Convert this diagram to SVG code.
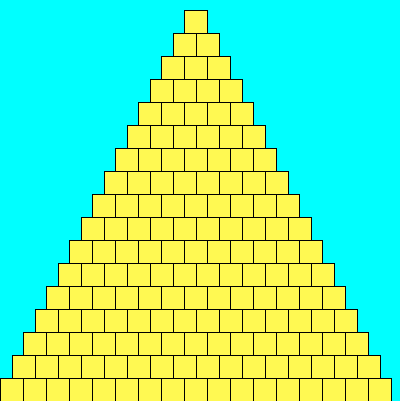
<svg xmlns="http://www.w3.org/2000/svg" xmlns:xlink="http://www.w3.org/1999/xlink" width="400" height="401" viewBox="0 0 400 401">
<style>.blk{fill:#fff952;stroke:#000;stroke-width:1}</style>
<defs><rect id="b" class="blk" width="23" height="23"/></defs>
<rect width="400" height="401" fill="#00ffff"/>
<g id="row1" transform="translate(184.5,10.5)"><use href="#b" x="0"/></g>
<g id="row2" transform="translate(173.5,33.5)"><use href="#b" x="0"/><use href="#b" x="23"/></g>
<g id="row3" transform="translate(161.5,56.5)"><use href="#b" x="0"/><use href="#b" x="23"/><use href="#b" x="46"/></g>
<g id="row4" transform="translate(150.5,79.5)"><use href="#b" x="0"/><use href="#b" x="23"/><use href="#b" x="46"/><use href="#b" x="69"/></g>
<g id="row5" transform="translate(138.5,102.5)"><use href="#b" x="0"/><use href="#b" x="23"/><use href="#b" x="46"/><use href="#b" x="69"/><use href="#b" x="92"/></g>
<g id="row6" transform="translate(127.5,125.5)"><use href="#b" x="0"/><use href="#b" x="23"/><use href="#b" x="46"/><use href="#b" x="69"/><use href="#b" x="92"/><use href="#b" x="115"/></g>
<g id="row7" transform="translate(115.5,148.5)"><use href="#b" x="0"/><use href="#b" x="23"/><use href="#b" x="46"/><use href="#b" x="69"/><use href="#b" x="92"/><use href="#b" x="115"/><use href="#b" x="138"/></g>
<g id="row8" transform="translate(104.5,171.5)"><use href="#b" x="0"/><use href="#b" x="23"/><use href="#b" x="46"/><use href="#b" x="69"/><use href="#b" x="92"/><use href="#b" x="115"/><use href="#b" x="138"/><use href="#b" x="161"/></g>
<g id="row9" transform="translate(92.5,194.5)"><use href="#b" x="0"/><use href="#b" x="23"/><use href="#b" x="46"/><use href="#b" x="69"/><use href="#b" x="92"/><use href="#b" x="115"/><use href="#b" x="138"/><use href="#b" x="161"/><use href="#b" x="184"/></g>
<g id="row10" transform="translate(81.5,217.5)"><use href="#b" x="0"/><use href="#b" x="23"/><use href="#b" x="46"/><use href="#b" x="69"/><use href="#b" x="92"/><use href="#b" x="115"/><use href="#b" x="138"/><use href="#b" x="161"/><use href="#b" x="184"/><use href="#b" x="207"/></g>
<g id="row11" transform="translate(69.5,240.5)"><use href="#b" x="0"/><use href="#b" x="23"/><use href="#b" x="46"/><use href="#b" x="69"/><use href="#b" x="92"/><use href="#b" x="115"/><use href="#b" x="138"/><use href="#b" x="161"/><use href="#b" x="184"/><use href="#b" x="207"/><use href="#b" x="230"/></g>
<g id="row12" transform="translate(58.5,263.5)"><use href="#b" x="0"/><use href="#b" x="23"/><use href="#b" x="46"/><use href="#b" x="69"/><use href="#b" x="92"/><use href="#b" x="115"/><use href="#b" x="138"/><use href="#b" x="161"/><use href="#b" x="184"/><use href="#b" x="207"/><use href="#b" x="230"/><use href="#b" x="253"/></g>
<g id="row13" transform="translate(46.5,286.5)"><use href="#b" x="0"/><use href="#b" x="23"/><use href="#b" x="46"/><use href="#b" x="69"/><use href="#b" x="92"/><use href="#b" x="115"/><use href="#b" x="138"/><use href="#b" x="161"/><use href="#b" x="184"/><use href="#b" x="207"/><use href="#b" x="230"/><use href="#b" x="253"/><use href="#b" x="276"/></g>
<g id="row14" transform="translate(35.5,309.5)"><use href="#b" x="0"/><use href="#b" x="23"/><use href="#b" x="46"/><use href="#b" x="69"/><use href="#b" x="92"/><use href="#b" x="115"/><use href="#b" x="138"/><use href="#b" x="161"/><use href="#b" x="184"/><use href="#b" x="207"/><use href="#b" x="230"/><use href="#b" x="253"/><use href="#b" x="276"/><use href="#b" x="299"/></g>
<g id="row15" transform="translate(23.5,332.5)"><use href="#b" x="0"/><use href="#b" x="23"/><use href="#b" x="46"/><use href="#b" x="69"/><use href="#b" x="92"/><use href="#b" x="115"/><use href="#b" x="138"/><use href="#b" x="161"/><use href="#b" x="184"/><use href="#b" x="207"/><use href="#b" x="230"/><use href="#b" x="253"/><use href="#b" x="276"/><use href="#b" x="299"/><use href="#b" x="322"/></g>
<g id="row16" transform="translate(12.5,355.5)"><use href="#b" x="0"/><use href="#b" x="23"/><use href="#b" x="46"/><use href="#b" x="69"/><use href="#b" x="92"/><use href="#b" x="115"/><use href="#b" x="138"/><use href="#b" x="161"/><use href="#b" x="184"/><use href="#b" x="207"/><use href="#b" x="230"/><use href="#b" x="253"/><use href="#b" x="276"/><use href="#b" x="299"/><use href="#b" x="322"/><use href="#b" x="345"/></g>
<g id="row17" transform="translate(0.5,378.5)"><use href="#b" x="0"/><use href="#b" x="23"/><use href="#b" x="46"/><use href="#b" x="69"/><use href="#b" x="92"/><use href="#b" x="115"/><use href="#b" x="138"/><use href="#b" x="161"/><use href="#b" x="184"/><use href="#b" x="207"/><use href="#b" x="230"/><use href="#b" x="253"/><use href="#b" x="276"/><use href="#b" x="299"/><use href="#b" x="322"/><use href="#b" x="345"/><use href="#b" x="368"/></g>
</svg>
